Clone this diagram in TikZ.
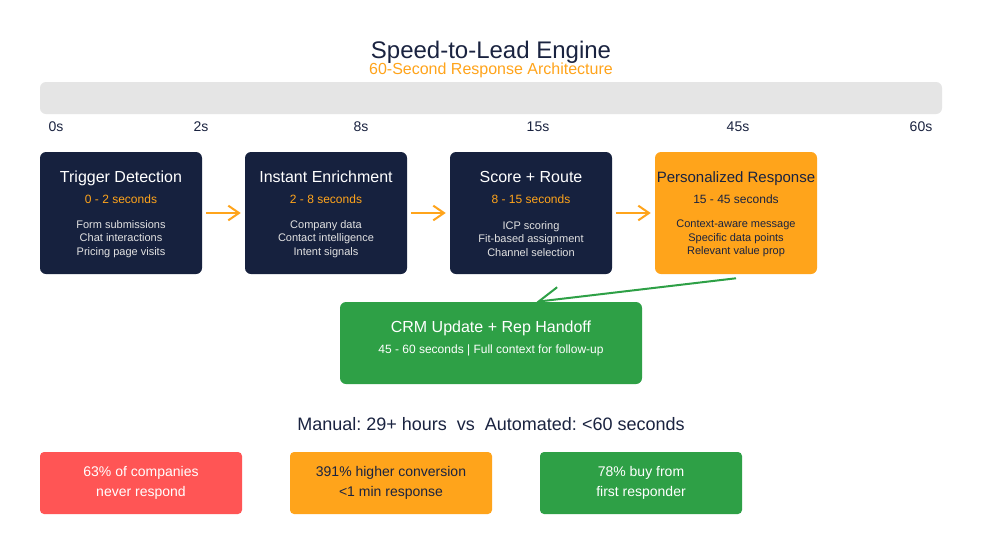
\documentclass[tikz,border=0pt]{standalone}
\usepackage{fontspec}
\setmainfont{Liberation Sans}
\usetikzlibrary{arrows.meta,calc}
\pgfdeclarelayer{bg}
\pgfsetlayers{bg,main}
\definecolor{navy}{HTML}{16213E}
\definecolor{ora}{HTML}{FFA41B}
\definecolor{grn}{HTML}{2EA046}
\definecolor{redc}{HTML}{FF5555}
\definecolor{barc}{HTML}{E5E5E5}
\definecolor{lgray}{HTML}{E2E2E2}
\definecolor{dk}{HTML}{1A2340}
\frenchspacing
\begin{document}
\frenchspacing
\begin{tikzpicture}[x=0.75pt,y=-0.75pt,
  txt/.style={inner sep=0pt, anchor=base},
  stage/.style={rounded corners=4.5pt, minimum width=121.5pt, minimum height=91.5pt, inner sep=0pt},
  stat/.style={rounded corners=3pt, minimum width=151.5pt, minimum height=46.5pt, inner sep=0pt, align=center, font=\fontsize{10.5}{15}\selectfont},
  ttl/.style={txt, font=\fontsize{12}{14}\selectfont},
  sub/.style={txt, font=\fontsize{9}{11}\selectfont},
  det/.style={inner sep=0pt, align=center, font=\fontsize{8.25}{10.1}\selectfont},
  tick/.style={txt, text=dk, font=\fontsize{10.5}{12}\selectfont},
  oarrow/.style={draw=ora, line width=1.5pt, -{Straight Barb[length=8pt,width=11pt]}, shorten <=3pt, shorten >=3pt},
  garrow/.style={draw=grn, line width=1.5pt, -{Straight Barb[length=15pt,width=18pt]}}]
\begin{pgfonlayer}{bg}
\fill[white] (0,0) rectangle (982,554);
\end{pgfonlayer}
\useasboundingbox (0,0) rectangle (982,554);
% titles
\node[txt, text=dk, font=\fontsize{18}{20}\selectfont] (title) at (491,58) {Speed-to-Lead Engine};
\node[txt, text=ora, font=\fontsize{12}{14}\selectfont] (subtitle) at (491,74) {60-Second Response Architecture};
% timeline
\node[fill=barc, rounded corners=4.5pt, minimum width=676.5pt, minimum height=24pt, inner sep=0pt] (bar) at (491,98) {};
\node[tick] (t0) at (56,131) {0s};
\node[tick] (t2) at (201,131) {2s};
\node[tick] (t8) at (361,131) {8s};
\node[tick] (t15) at (538,131) {15s};
\node[tick] (t45) at (738,131) {45s};
\node[tick] (t60) at (921,131) {60s};
% stages
\node[stage, fill=navy] (s1) at (121,213) {};
\node[stage, fill=navy] (s2) at (326,213) {};
\node[stage, fill=navy] (s3) at (531,213) {};
\node[stage, fill=ora] (s4) at (736,213) {};
\node[ttl, text=white] (s1t) at ($(s1.north)+(0,31)$) {Trigger Detection};
\node[sub, text=ora] (s1s) at ($(s1.north)+(0,52)$) {0 - 2 seconds};
\node[det, text=lgray] (s1d) at ($(s1.north)+(0,87)$) {Form submissions\\Chat interactions\\Pricing page visits};
\node[ttl, text=white] (s2t) at ($(s2.north)+(0,31)$) {Instant Enrichment};
\node[sub, text=ora] (s2s) at ($(s2.north)+(0,52)$) {2 - 8 seconds};
\node[det, text=lgray] (s2d) at ($(s2.north)+(0,87)$) {Company data\\Contact intelligence\\Intent signals};
\node[ttl, text=white] (s3t) at ($(s3.north)+(0,31)$) {Score + Route};
\node[sub, text=ora] (s3s) at ($(s3.north)+(0,52)$) {8 - 15 seconds};
\node[det, text=lgray] (s3d) at ($(s3.north)+(0,87)$) {ICP scoring\\Fit-based assignment\\Channel selection};
\node[ttl, text=dk, font=\fontsize{11.25}{13}\selectfont] (s4t) at ($(s4.north)+(0,30.5)$) {Personalized Response};
\node[sub, text=dk] (s4s) at ($(s4.north)+(0,52)$) {15 - 45 seconds};
\node[det, text=dk] (s4d) at ($(s4.north)+(0,87)$) {Context-aware message\\Specific data points\\Relevant value prop};
\draw[oarrow] (s1.east) -- (s2.west);
\draw[oarrow] (s2.east) -- (s3.west);
\draw[oarrow] (s3.east) -- (s4.west);
% CRM
\node[fill=grn, rounded corners=4.5pt, minimum width=226.5pt, minimum height=61.5pt, inner sep=0pt] (crm) at (491,343) {};
\node[ttl, text=white] (crmt) at ($(crm.north)+(0,31)$) {CRM Update + Rep Handoff};
\node[sub, text=white] (crms) at ($(crm.north)+(0,52)$) {45 - 60 seconds | Full context for follow-up};
\begin{pgfonlayer}{bg}
\draw[garrow] ($(s4.south)+(0,4)$) -- ($(crm.north west)+(197,0)$);
\end{pgfonlayer}
% comparison
\node[txt, text=dk, font=\fontsize{13.5}{16}\selectfont] (cmp) at (491,430.5) {Manual: 29+ hours\ \ vs\ \ Automated: <60 seconds};
\node[stat, fill=redc, text=white] (st1) at (141,483) {63\% of companies\\never respond};
\node[stat, fill=ora, text=dk] (st2) at (391,483) {391\% higher conversion\\<1 min response};
\node[stat, fill=grn, text=white] (st3) at (641,483) {78\% buy from\\first responder};
\end{tikzpicture}
\end{document}
